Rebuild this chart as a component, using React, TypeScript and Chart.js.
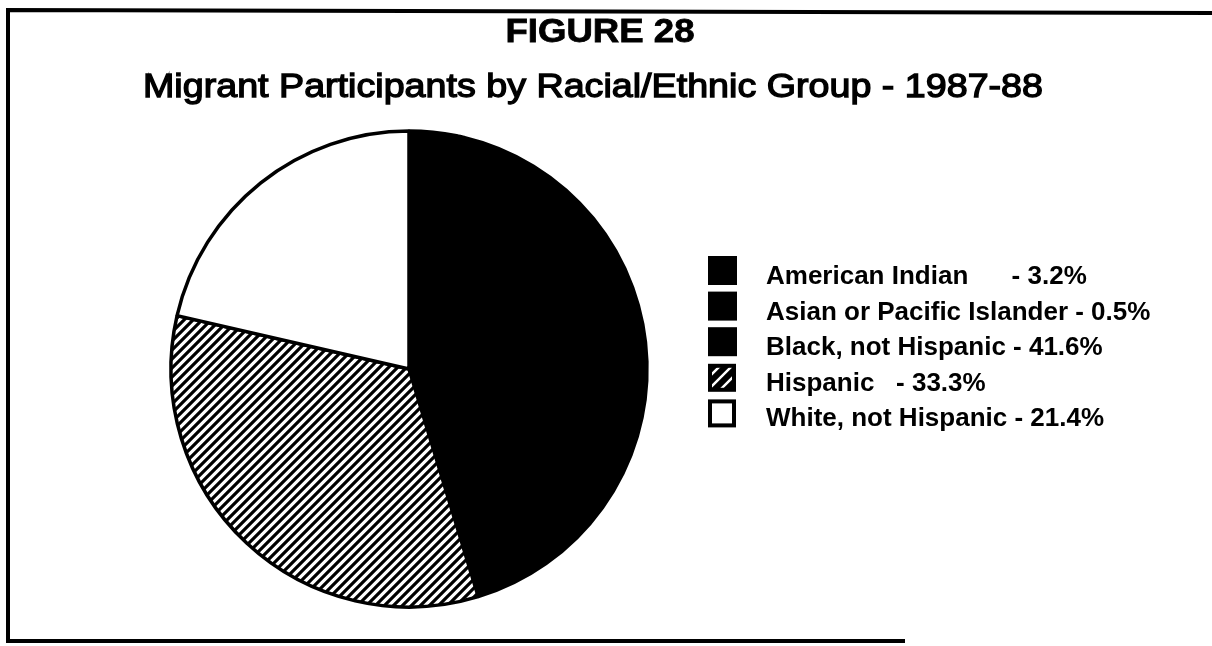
import React, { useEffect, useRef } from 'react';
import { Chart, registerables } from 'chart.js';

Chart.register(...registerables);

// ---- data ----
const categories = [
  'American Indian',
  'Asian or Pacific Islander',
  'Black, not Hispanic',
  'Hispanic',
  'White, not Hispanic',
];
const percentages = [3.2, 0.5, 41.6, 33.3, 21.4];
const legendGaps = ['      ', ' ', ' ', '   ', ' '];
const fillKinds = ['black', 'black', 'black', 'hatch', 'white'];
const titleText = 'FIGURE 28';
const subtitleText = 'Migrant Participants by Racial/Ethnic Group - 1987-88';

const W = 1212;
const H = 646;
const FONT = '"Liberation Sans", Arial, Helvetica, sans-serif';

function makeHatch(size: number, lw: number, bg: string) {
  const c = document.createElement('canvas');
  c.width = size;
  c.height = size;
  const g = c.getContext('2d')!;
  g.fillStyle = bg;
  g.fillRect(0, 0, size, size);
  g.strokeStyle = '#000';
  g.lineWidth = lw;
  g.lineCap = 'square';
  g.beginPath();
  g.moveTo(-size, size);
  g.lineTo(size, -size);
  g.moveTo(-1, size + 1);
  g.lineTo(size + 1, -1);
  g.moveTo(0, 2 * size);
  g.lineTo(2 * size, 0);
  g.stroke();
  const p = document.createElement('canvas').getContext('2d')!.createPattern(c, 'repeat');
  return p as CanvasPattern;
}

function drawFitted(
  ctx: CanvasRenderingContext2D,
  text: string,
  cx: number,
  baseline: number,
  targetWidth: number,
  stroke: number
) {
  const m = ctx.measureText(text).width;
  const sx = targetWidth / m;
  ctx.save();
  ctx.translate(cx, baseline);
  ctx.scale(sx, 1);
  ctx.textAlign = 'center';
  ctx.textBaseline = 'alphabetic';
  ctx.fillText(text, 0, 0);
  if (stroke > 0) {
    ctx.lineWidth = stroke;
    ctx.strokeText(text, 0, 0);
  }
  ctx.restore();
}

const decorPlugin = {
  id: 'decor',
  afterDraw(chart: any) {
    const ctx: CanvasRenderingContext2D = chart.ctx;
    ctx.save();
    // frame
    ctx.strokeStyle = '#000';
    ctx.lineWidth = 4;
    ctx.beginPath();
    ctx.moveTo(W, 13);
    ctx.lineTo(8, 10);
    ctx.lineTo(8, 641);
    ctx.lineTo(905, 641);
    ctx.stroke();

    // titles
    ctx.fillStyle = '#000';
    ctx.strokeStyle = '#000';
    ctx.font = `bold 34px ${FONT}`;
    drawFitted(ctx, titleText, 600, 42, 189, 0.8);
    ctx.font = `33px ${FONT}`;
    drawFitted(ctx, subtitleText, 593, 97, 900, 1.3);

    // legend
    const meta = chart.getDatasetMeta(0);
    const boxX = 708;
    const box = 29;
    const textX = 766;
    const firstBaseline = 284;
    const step = 35.6;
    ctx.font = `bold 26px ${FONT}`;
    ctx.textAlign = 'left';
    ctx.textBaseline = 'alphabetic';
    categories.forEach((name, i) => {
      const base = firstBaseline + i * step;
      const top = base - 28;
      const kind = fillKinds[i];
      if (kind === 'hatch') {
        ctx.fillStyle = (chart as any)._legendHatch || meta.data[i].options.backgroundColor;
      } else {
        ctx.fillStyle = meta.data[i].options.backgroundColor;
      }
      const s = kind === 'black' ? box : box - 5;
      const ox = kind === 'black' ? boxX : boxX + 2;
      const oy = kind === 'black' ? top : top + 3;
      ctx.fillRect(ox, oy, s, s);
      if (kind !== 'black') {
        ctx.lineWidth = 4;
        ctx.strokeStyle = '#000';
        ctx.strokeRect(ox, oy, s, s);
      }
      ctx.fillStyle = '#000';
      const label = `${name}${legendGaps[i]}- ${percentages[i]}%`;
      ctx.fillText(label, textX, base);
    });
    ctx.restore();
  },
};

export default function App() {
  const ref = useRef<HTMLCanvasElement | null>(null);

  useEffect(() => {
    document.body.style.margin = '0';
    const canvas = ref.current!;
    const hatch = makeHatch(9, 3.2, '#fff');
    const legendHatch = makeHatch(12, 6, '#fff');
    const colors = fillKinds.map((k) => (k === 'black' ? '#000' : k === 'white' ? '#fff' : hatch));

    const chart = new Chart(canvas, {
      type: 'pie',
      data: {
        labels: categories,
        datasets: [
          {
            data: percentages,
            backgroundColor: colors as any,
            borderColor: '#000',
            borderWidth: 3.5,
            hoverOffset: 0,
          },
        ],
      },
      options: {
        responsive: false,
        animation: false,
        radius: 238,
        layout: { padding: { left: 171, right: W - 647, top: 131, bottom: H - 607 } },
        plugins: {
          legend: { display: false },
          title: { display: false },
          tooltip: { enabled: false },
        },
        events: [],
      } as any,
      plugins: [decorPlugin],
    });
    (chart as any)._legendHatch = legendHatch;
    chart.draw();

    return () => chart.destroy();
  }, []);

  return (
    <div style={{ width: W, height: H, background: '#fff' }}>
      <canvas ref={ref} width={W} height={H} style={{ display: 'block' }} />
    </div>
  );
}
